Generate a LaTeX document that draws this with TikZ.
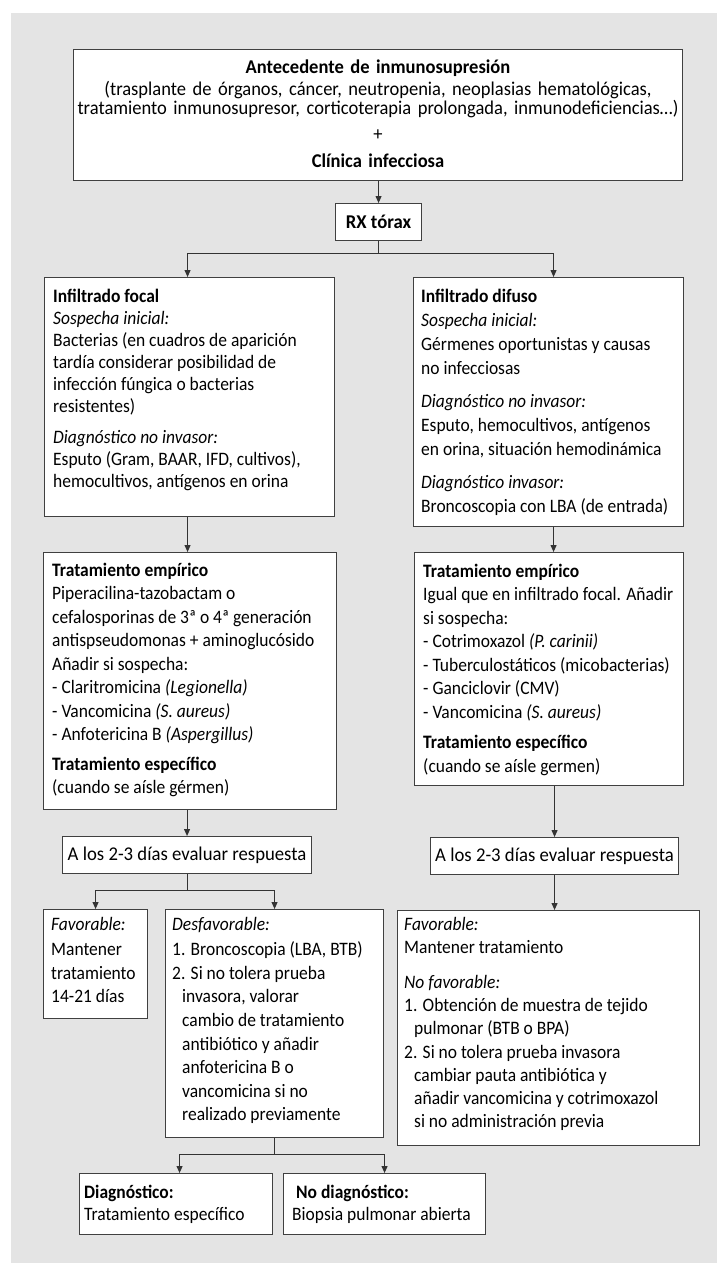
\documentclass[tikz,border=0pt]{standalone}
\usepackage{fontspec}
\setmainfont{Carlito}[FakeStretch=0.92]
\newfontfamily\topfont{Carlito}[FakeStretch=0.95]
\newfontfamily\evfont{Carlito}[FakeStretch=0.96]
\usetikzlibrary{arrows.meta}
\definecolor{bgc}{HTML}{E4E4E4}
\definecolor{lnc}{HTML}{333333}
\definecolor{bdc}{HTML}{404040}
\tikzset{
  bx/.style={draw=bdc, line width=1.1pt, fill=white, inner sep=0pt, anchor=north west},
  sbx/.style={draw=bdc, line width=1.1pt, fill=white, inner sep=0pt, anchor=north west,
    font=\evfont\fontsize{19.5pt}{22.5pt}\selectfont},
  tx/.style={inner sep=0pt, anchor=base west, align=flush left, text width=400pt,
    font=\fontsize{19pt}{#1}\selectfont},
  tx/.default=22.5pt,
  conn/.style={draw=lnc, line width=1pt},
  arr/.style={draw=lnc, line width=1pt, -{Triangle[length=7pt,width=6pt]}}
}
\newcommand\hg{\hspace*{10pt}}
\begin{document}
\begin{tikzpicture}[x=1pt,y=-1pt]
\useasboundingbox (0,0) rectangle (717,1263);
\fill[white] (0,0) rectangle (717,1263);
\fill[bgc] (11,13) rectangle (717,1263);

% boxes
\node[bx, minimum width=609pt, minimum height=131pt] (top) at (73,49) {};
\node[sbx, minimum width=86pt, minimum height=37pt] (rx) at (335,203) {\textbf{RX tórax}};
\node[bx, minimum width=290pt, minimum height=239pt] (f1) at (44,277) {};
\node[bx, minimum width=270pt, minimum height=249pt] (d1) at (413,277) {};
\node[bx, minimum width=293pt, minimum height=257pt] (f2) at (43,552) {};
\node[bx, minimum width=269pt, minimum height=233pt] (d2) at (414,552) {};
\node[sbx, minimum width=249pt, minimum height=37pt] (ea) at (62,836) {A los 2-3 días evaluar respuesta};
\node[sbx, minimum width=248pt, minimum height=37pt] (eb) at (430,837) {A los 2-3 días evaluar respuesta};
\node[bx, minimum width=104pt, minimum height=109pt] (fav) at (43,909) {};
\node[bx, minimum width=218pt, minimum height=228pt] (des) at (165,909) {};
\node[bx, minimum width=302pt, minimum height=235pt] (resp) at (397,910) {};
\node[bx, minimum width=193pt, minimum height=61pt] (dx) at (79,1173) {};
\node[bx, minimum width=202pt, minimum height=61pt] (ndx) at (283,1173) {};

% texts
\node[tx, anchor=base, align=center, text width=660pt,
  font=\topfont\fontsize{19.5pt}{20pt}\selectfont] (topt) at (378,74)
  {\textbf{Antecedente de inmunosupresión}\\[1pt]
   (trasplante de órganos, cáncer, neutropenia, neoplasias hematológicas,\\[-1pt]
   tratamiento inmunosupresor, corticoterapia prolongada, inmunodeficiencias…)\\[7pt]
   +\\[7pt]
   \textbf{Clínica infecciosa}};

\node[tx=22pt] (f1t) at (53,302)
  {\textbf{Infiltrado focal}\\
   \textit{Sospecha inicial:}\\
   Bacterias (en cuadros de aparición\\
   tardía considerar posibilidad de\\
   infección fúngica o bacterias\\
   resistentes)\\[9pt]
   \textit{Diagnóstico no invasor:}\\
   Esputo (Gram, BAAR, IFD, cultivos),\\
   hemocultivos, antígenos en orina};

\node[tx=24pt] (d1t) at (421,302)
  {\textbf{Infiltrado difuso}\\
   \textit{Sospecha inicial:}\\
   Gérmenes oportunistas y causas\\
   no infecciosas\\[9pt]
   \textit{Diagnóstico no invasor:}\\
   Esputo, hemocultivos, antígenos\\
   en orina, situación hemodinámica\\[9pt]
   \textit{Diagnóstico invasor:}\\
   Broncoscopia con LBA (de entrada)};

\node[tx=23.5pt] (f2t) at (52,576)
  {\textbf{Tratamiento empírico}\\
   Piperacilina-tazobactam o\\
   cefalosporinas de 3ª o 4ª generación\\
   antispseudomonas + aminoglucósido\\
   Añadir si sospecha:\\
   - Claritromicina \textit{(Legionella)}\\
   - Vancomicina \textit{(S. aureus)}\\
   - Anfotericina B \textit{(Aspergillus)}\\[6pt]
   \textbf{Tratamiento específico}\\
   (cuando se aísle gérmen)};

\node[tx=23.5pt] (d2t) at (423,577)
  {\textbf{Tratamiento empírico}\\
   Igual que en infiltrado focal. Añadir\\
   si sospecha:\\
   - Cotrimoxazol \textit{(P. carinii)}\\
   - Tuberculostáticos (micobacterias)\\
   - Ganciclovir (CMV)\\
   - Vancomicina \textit{(S. aureus)}\\[7pt]
   \textbf{Tratamiento específico}\\
   (cuando se aísle germen)};

\node[tx=23.6pt] (favt) at (51,930)
  {\textit{Favorable:}\\[2pt]
   Mantener\\
   tratamiento\\
   14-21 días};

\node[tx=23.6pt] (dest) at (172,930)
  {\textit{Desfavorable:}\\[2pt]
   1. Broncoscopia (LBA, BTB)\\
   2. Si no tolera prueba\\
   \hg invasora, valorar\\
   \hg cambio de tratamiento\\
   \hg antibiótico y añadir\\
   \hg anfotericina B o\\
   \hg vancomicina si no\\
   \hg realizado previamente};

\node[tx=23.2pt] (respt) at (404,930)
  {\textit{Favorable:}\\
   Mantener tratamiento\\[12pt]
   \textit{No favorable:}\\
   1. Obtención de muestra de tejido\\
   \hg pulmonar (BTB o BPA)\\
   2. Si no tolera prueba invasora\\
   \hg cambiar pauta antibiótica y\\
   \hg añadir vancomicina y cotrimoxazol\\
   \hg si no administración previa};

\node[tx=22pt] (dxt) at (84,1198)
  {\textbf{Diagnóstico:}\\
   Tratamiento específico};

\node[tx=22pt] (ndxt) at (292,1198)
  {\hspace*{4pt}\textbf{No diagnóstico:}\\
   Biopsia pulmonar abierta};

% connectors
\draw[arr] (top.south -| rx.north) -- (rx.north);
\draw[conn] (rx.south) -- ++(0,12) coordinate (b1);
\draw[arr] (b1) -| ([xshift=-2pt]f1.north);
\draw[arr] (b1) -| ([xshift=5pt]d1.north);
\draw[arr] ([xshift=-2pt]f1.south) -- ([xshift=-2pt]f1.south |- f2.north);
\draw[arr] ([xshift=5pt]d1.south) -- ([xshift=5pt]d1.south |- d2.north);
\draw[arr] (f2.south -| ea.north) -- (ea.north);
\draw[arr] (d2.south -| eb.north) -- (eb.north);
\draw[conn] (ea.south) -- ++(0,16) coordinate (b2);
\draw[arr] (b2) -| (fav.north);
\draw[arr] (b2) -| (des.north);
\draw[arr] (eb.south) -- (eb.south |- resp.north);
\draw[conn] (des.south) -- ++(0,16) coordinate (b3);
\draw[arr] (b3) -| ([xshift=3.5pt]dx.north);
\draw[arr] (b3) -| (ndx.north);
\end{tikzpicture}
\end{document}
